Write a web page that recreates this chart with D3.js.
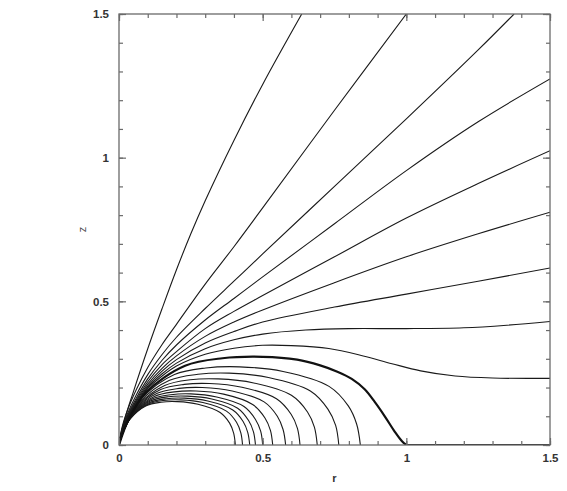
<!DOCTYPE html>
<html lang="en">
<head>
<meta charset="UTF-8">
<title>Field lines</title>
<style>
  body { margin: 0; background: #fff; }
  text { font-family: "Liberation Sans", Arial, sans-serif; }
</style>
</head>
<body>
<script src="https://d3js.org/d3.v7.min.js"></script>
<script>
// closed field lines (r, z), landing on the equator
const closed1 = [[0,0],[0.014,0.045],[0.039,0.091],[0.093,0.136],[0.146,0.149],[0.203,0.151],[0.275,0.142],[0.352,0.113],[0.385,0.076],[0.399,0.041],[0.405,0]];
const closed2 = [[0,0],[0.015,0.047],[0.041,0.094],[0.099,0.141],[0.155,0.155],[0.215,0.157],[0.292,0.148],[0.374,0.118],[0.409,0.079],[0.424,0.042],[0.43,0]];
const closed3 = [[0,0],[0.016,0.049],[0.043,0.098],[0.105,0.147],[0.164,0.161],[0.228,0.163],[0.309,0.153],[0.396,0.122],[0.432,0.082],[0.448,0.044],[0.455,0]];
const closed4 = [[0,0],[0.017,0.051],[0.045,0.102],[0.109,0.153],[0.171,0.168],[0.238,0.17],[0.323,0.16],[0.413,0.128],[0.451,0.085],[0.468,0.046],[0.475,0]];
const closed5 = [[0,0],[0.018,0.053],[0.048,0.107],[0.115,0.16],[0.18,0.175],[0.25,0.178],[0.34,0.167],[0.435,0.134],[0.475,0.089],[0.493,0.048],[0.5,0]];
const closed6 = [[0,0],[0.019,0.056],[0.051,0.113],[0.123,0.169],[0.193,0.185],[0.268,0.188],[0.364,0.177],[0.465,0.141],[0.508,0.094],[0.527,0.051],[0.535,0]];
const closed7 = [[0,0],[0.02,0.06],[0.055,0.12],[0.133,0.18],[0.209,0.197],[0.29,0.2],[0.394,0.188],[0.505,0.15],[0.551,0.1],[0.571,0.054],[0.58,0]];
const closed8 = [[0,0],[0.022,0.064],[0.06,0.128],[0.145,0.193],[0.227,0.211],[0.315,0.214],[0.428,0.201],[0.548,0.161],[0.599,0.107],[0.621,0.058],[0.63,0]];
const closed9 = [[0,0],[0.024,0.069],[0.066,0.138],[0.159,0.207],[0.248,0.227],[0.345,0.23],[0.469,0.216],[0.6,0.173],[0.656,0.115],[0.68,0.062],[0.69,0]];
const closed10 = [[0,0],[0.027,0.075],[0.073,0.15],[0.176,0.225],[0.275,0.246],[0.383,0.25],[0.52,0.235],[0.666,0.188],[0.727,0.125],[0.754,0.068],[0.765,0]];
const closed11 = [[0,0],[0.029,0.082],[0.08,0.163],[0.193,0.245],[0.302,0.268],[0.42,0.272],[0.571,0.256],[0.731,0.204],[0.798,0.136],[0.827,0.073],[0.84,0]];

// last closed line (thick) and the equatorial sheet beyond r = 1
const separatrix = [[0,0],[0.035,0.092],[0.095,0.184],[0.23,0.276],[0.36,0.302],[0.5,0.307],[0.62,0.297],[0.7,0.277],[0.76,0.255],[0.81,0.23],[0.855,0.194],[0.89,0.15],[0.925,0.1],[0.96,0.046],[0.985,0.013],[1.0,0]];
const sheet = [[1.0,0],[1.5,0]];

// open field lines
const openA = [[0,0],[0.02,0.09],[0.05,0.185],[0.1,0.335],[0.15,0.475],[0.2,0.61],[0.25,0.735],[0.3,0.85],[0.4,1.06],[0.5,1.255],[0.636,1.5]];
const openB = [[0,0],[0.01,0.059],[0.03,0.122],[0.06,0.192],[0.1,0.27],[0.15,0.35],[0.2,0.42],[0.3,0.56],[0.4,0.69],[0.5,0.825],[0.75,1.165],[1.0,1.5]];
const openC = [[0,0],[0.01,0.054],[0.03,0.11],[0.06,0.174],[0.1,0.245],[0.15,0.315],[0.2,0.375],[0.3,0.475],[0.4,0.57],[0.5,0.665],[0.75,0.9],[1.0,1.135],[1.25,1.375],[1.375,1.5]];
const openD = [[0,0],[0.01,0.051],[0.03,0.104],[0.06,0.163],[0.1,0.23],[0.15,0.295],[0.2,0.348],[0.3,0.435],[0.4,0.51],[0.5,0.585],[0.75,0.77],[1.0,0.955],[1.25,1.125],[1.5,1.274]];
const openE = [[0,0],[0.01,0.048],[0.03,0.099],[0.06,0.156],[0.1,0.22],[0.15,0.28],[0.2,0.325],[0.3,0.405],[0.4,0.465],[0.5,0.52],[0.75,0.655],[1.0,0.79],[1.25,0.91],[1.5,1.024]];
const openF = [[0,0],[0.01,0.047],[0.03,0.095],[0.06,0.151],[0.1,0.212],[0.15,0.267],[0.2,0.31],[0.3,0.378],[0.4,0.428],[0.5,0.47],[0.75,0.565],[1.0,0.655],[1.25,0.735],[1.5,0.81]];
const openG = [[0,0],[0.01,0.045],[0.03,0.092],[0.06,0.146],[0.1,0.205],[0.15,0.257],[0.2,0.297],[0.3,0.355],[0.4,0.395],[0.5,0.428],[0.75,0.48],[1.0,0.525],[1.25,0.57],[1.5,0.616]];
const openH = [[0,0],[0.01,0.044],[0.03,0.09],[0.06,0.142],[0.1,0.2],[0.15,0.248],[0.2,0.285],[0.3,0.335],[0.4,0.366],[0.5,0.386],[0.65,0.4],[0.8,0.405],[1.0,0.405],[1.2,0.408],[1.35,0.417],[1.5,0.43]];
const openI = [[0,0],[0.01,0.043],[0.03,0.088],[0.06,0.139],[0.1,0.196],[0.15,0.24],[0.2,0.275],[0.3,0.316],[0.4,0.337],[0.5,0.347],[0.6,0.346],[0.73,0.336],[0.85,0.31],[0.95,0.283],[1.05,0.258],[1.17,0.24],[1.3,0.233],[1.5,0.232]];

const majorTicks = [0, 0.5, 1, 1.5];
const minorTicks = d3.range(0, 1.501, 0.1);
const tickLabels = ["0", "0.5", "1", "1.5"];

const thinLines = [closed1, closed2, closed3, closed4, closed5, closed6, closed7, closed8, closed9, closed10, closed11,
                   openA, openB, openC, openD, openE, openF, openG, openH, openI];
const thickLines = [separatrix, sheet];

// layout
const W = 567, H = 491,
      mLeft = 119, mRight = 550, mTop = 14, mBottom = 445,
      axisColor = "#6a6a6a";

const x = d3.scaleLinear().domain([0, 1.5]).range([mLeft, mRight]);
const y = d3.scaleLinear().domain([0, 1.5]).range([mBottom, mTop]);

const svg = d3.select("body").append("svg")
    .attr("width", W)
    .attr("height", H);

svg.append("clipPath").attr("id", "plot")
  .append("rect")
    .attr("x", mLeft).attr("y", mTop)
    .attr("width", mRight - mLeft).attr("height", mBottom - mTop);

const line = d3.line()
    .x(d => x(d[0]))
    .y(d => y(d[1]))
    .curve(d3.curveCatmullRom.alpha(0.5));

const g = svg.append("g").attr("clip-path", "url(#plot)");

g.selectAll(".thin")
  .data(thinLines)
  .enter().append("path")
    .attr("class", "thin")
    .attr("d", line)
    .attr("fill", "none")
    .attr("stroke", "#1a1a1a")
    .attr("stroke-width", 1.1);

g.selectAll(".thick")
  .data(thickLines)
  .enter().append("path")
    .attr("class", "thick")
    .attr("d", line)
    .attr("fill", "none")
    .attr("stroke", "#111")
    .attr("stroke-width", 2.2);

// axes: inward ticks on all four sides
function styleAxis(sel) {
  sel.select(".domain").remove();
  sel.selectAll(".tick line").attr("stroke", axisColor).attr("stroke-width", 1.2);
  sel.selectAll(".tick text")
    .attr("fill", "#333")
    .style("font-size", "11.5px")
    .style("font-weight", "bold");
}

const fmt = d => tickLabels[majorTicks.indexOf(d)];

svg.append("g").attr("transform", `translate(0,${mBottom})`)
  .call(d3.axisBottom(x).tickValues(minorTicks).tickSize(-4).tickFormat(""))
  .call(styleAxis);
svg.append("g").attr("transform", `translate(0,${mBottom})`)
  .call(d3.axisBottom(x).tickValues(majorTicks).tickSize(-7).tickPadding(9).tickFormat(fmt))
  .call(styleAxis);

svg.append("g").attr("transform", `translate(0,${mTop})`)
  .call(d3.axisTop(x).tickValues(minorTicks).tickSize(-4).tickFormat(""))
  .call(styleAxis);
svg.append("g").attr("transform", `translate(0,${mTop})`)
  .call(d3.axisTop(x).tickValues(majorTicks).tickSize(-7).tickFormat(""))
  .call(styleAxis);

svg.append("g").attr("transform", `translate(${mLeft},0)`)
  .call(d3.axisLeft(y).tickValues(minorTicks).tickSize(-4).tickFormat(""))
  .call(styleAxis);
svg.append("g").attr("transform", `translate(${mLeft},0)`)
  .call(d3.axisLeft(y).tickValues(majorTicks).tickSize(-7).tickPadding(10).tickFormat(fmt))
  .call(styleAxis);

svg.append("g").attr("transform", `translate(${mRight},0)`)
  .call(d3.axisRight(y).tickValues(minorTicks).tickSize(-4).tickFormat(""))
  .call(styleAxis);
svg.append("g").attr("transform", `translate(${mRight},0)`)
  .call(d3.axisRight(y).tickValues(majorTicks).tickSize(-7).tickFormat(""))
  .call(styleAxis);

// frame
svg.append("rect")
    .attr("x", mLeft).attr("y", mTop)
    .attr("width", mRight - mLeft).attr("height", mBottom - mTop)
    .attr("fill", "none")
    .attr("stroke", axisColor)
    .attr("stroke-width", 1.3);

// axis titles
svg.append("text")
    .attr("x", (mLeft + mRight) / 2)
    .attr("y", 482)
    .attr("text-anchor", "middle")
    .attr("fill", "#333")
    .style("font-size", "11px")
    .style("font-weight", "bold")
    .text("r");

svg.append("text")
    .attr("transform", `translate(86,${(mTop + mBottom) / 2}) rotate(-90)`)
    .attr("text-anchor", "middle")
    .attr("fill", "#444")
    .style("font-size", "11px")
    .text("z");
</script>
</body>
</html>
